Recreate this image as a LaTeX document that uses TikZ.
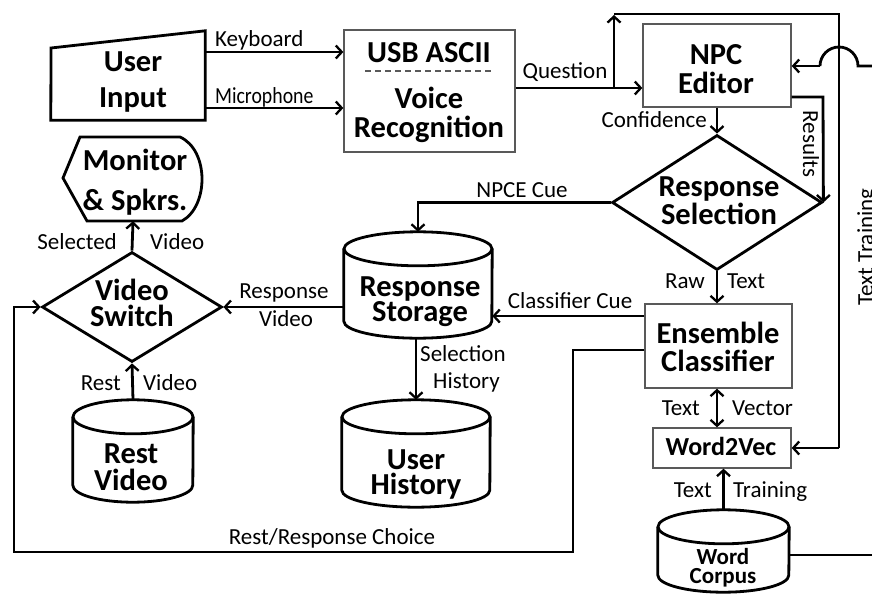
\documentclass[tikz,border=0pt]{standalone}
\usepackage{fontspec}
\setmainfont{Carlito}
\usetikzlibrary{arrows.meta,shapes.geometric}
\tikzset{
 lbl/.style={font=\fontsize{23}{24}\selectfont, inner sep=0, anchor=base},
 big/.style={font=\bfseries\fontsize{30.5}{28}\selectfont, inner sep=0, anchor=base, align=center},
 thk/.style={line width=2.8pt, line join=miter},
 thn/.style={draw=black!65, line width=1.3pt},
 ghost/.style={inner sep=0, draw=none},
 arr/.style={thk, -{Straight Barb[length=6pt,width=13pt,line width=2.3pt]}},
 darr/.style={thk, {Straight Barb[length=6pt,width=13pt,line width=2.3pt]}-{Straight Barb[length=6pt,width=13pt,line width=2.3pt]}},
}
\newcommand\drawcyl[3]{%
 \draw[thk] ([yshift=-#3]#1.north west) -- ([yshift=#3]#1.south west)
   arc[start angle=180,end angle=360,x radius=#2,y radius=#3] -- ([yshift=-#3]#1.north east);
 \draw[thk] ([yshift=-#3]#1.north) ellipse[x radius=#2, y radius=#3];}
\begin{document}
\begin{tikzpicture}[x=1pt,y=-1pt]
\useasboundingbox (0,0) rectangle (872,594);
% ---------- nodes ----------
\node[ghost, minimum width=154pt, minimum height=89pt] (ui) at (128,75.5) {};
\draw[thk] (ui.south west) -- (ui.south east) -- (ui.north east) -- (51,48) -- cycle;
\node[big, font=\bfseries\fontsize{30.5}{36}\selectfont] at (133,107) {User\\Input};

\node[thn, minimum width=171pt, minimum height=122pt] (usb) at (429.5,91) {};
\node[big] at (429,63) {USB ASCII};
\draw[thn, dashed, dash pattern=on 6pt off 4pt] (365,71) -- (492,71);
\node[big, font=\bfseries\fontsize{30.5}{29}\selectfont] at (429,137) {Voice\\Recognition};

\node[thn, minimum width=148pt, minimum height=83pt] (npc) at (717,65.5) {};
\node[big, font=\bfseries\fontsize{30.5}{29}\selectfont] at (716,93) {NPC\\Editor};

\node[thk, draw, diamond, inner sep=0, minimum width=210pt, minimum height=135pt] (rsel) at (717,202.5) {};
\node[big, font=\bfseries\fontsize{30.5}{26}\selectfont] at (719,224) {Response\\Selection};

\node[thn, minimum width=147pt, minimum height=84pt] (ens) at (718.5,346) {};
\node[big] at (718,371) {Ensemble\\Classifier};

\node[thn, minimum width=138pt, minimum height=40pt] (w2v) at (722,448) {};
\node[big, font=\bfseries\fontsize{26}{28}\selectfont] at (721,455) {Word2Vec};

\node[ghost, minimum width=148pt, minimum height=106pt] (rs) at (418,285) {};
\drawcyl{rs}{74pt}{17pt}
\node[big, font=\bfseries\fontsize{30.5}{25}\selectfont] at (420,321) {Response\\Storage};

\node[ghost, minimum width=148pt, minimum height=107pt] (uh) at (416,453.5) {};
\drawcyl{uh}{74pt}{17pt}
\node[big, font=\bfseries\fontsize{30.5}{25}\selectfont] at (416,494) {User\\History};

\node[ghost, minimum width=120pt, minimum height=102pt] (rv) at (133,451) {};
\drawcyl{rv}{60pt}{17pt}
\node[big, font=\bfseries\fontsize{30.5}{27}\selectfont] at (131,490) {Rest\\Video};

\node[ghost, minimum width=131pt, minimum height=82pt] (wc) at (723.5,551) {};
\drawcyl{wc}{65.5pt}{17pt}
\node[big, font=\bfseries\fontsize{23}{19}\selectfont] at (723,583) {Word\\Corpus};

\node[thk, draw, diamond, inner sep=0, minimum width=180pt, minimum height=110pt] (vs) at (132,307) {};
\node[big, font=\bfseries\fontsize{30.5}{26}\selectfont] at (132,326) {Video\\Switch};

\node[ghost, minimum width=140pt, minimum height=84pt] (mon) at (133,179) {};
\draw[thk] (80,137) -- (180,137) .. controls (209,150) and (209,206) .. (182,221) -- (87,221) -- (63,178) -- cycle;
\node[big, font=\bfseries\fontsize{30.5}{40}\selectfont] at (135,210) {Monitor\\\& Spkrs.};

% ---------- connectors ----------
\draw[arr] (ui.east |- 0,52) -- (usb.west |- 0,52);
\node[lbl, anchor=base west] at (215,47) {Keyboard};
\draw[arr] (ui.east |- 0,108) -- (usb.west |- 0,108);
\node[lbl, anchor=base west, xscale=0.86] at (215,103) {Microphone};

\draw[arr] (usb.east |- 0,88) -- (npc.west |- 0,88);
\node[lbl] at (565,78) {Question};
\coordinate (br) at (614,88);
\draw[arr] (br) -- (614,15);
\draw[thk] (614,14) -- (839,14) -- (839,448);
\draw[arr] (839,448) -- (w2v.east |- 0,448);

\draw[thk] (872,66) -- (858,66) arc[start angle=0,end angle=180,radius=19pt];
\draw[arr] (820,66) -- (npc.east |- 0,66);

\draw[arr] (npc.east |- 0,97) -- (823,97) -- (rsel.east);
\node[lbl, rotate=-90] at (803,144) {Results};

\draw[arr] (npc.south) -- (rsel.north);
\node[lbl, anchor=base east] at (707,127) {Confidence};

\draw[arr] (rsel.west) -- (418,202.5) -- (rs.north);
\node[lbl] at (522,197) {NPCE Cue};

\draw[arr] (rsel.south) -- (ens.north -| rsel.south);
\node[lbl, anchor=base east] at (705,288) {Raw};
\node[lbl, anchor=base west] at (727,288) {Text};

\draw[arr] (ens.west |- 0,316) -- (rs.east |- 0,316);
\node[lbl] at (570,308) {Classifier Cue};

\draw[arr] (rs.west |- vs.east) -- (vs.east);
\node[lbl] at (284,298) {Response};
\node[lbl] at (286,326) {Video};

\draw[arr] (vs.north) -- (mon.south);
\node[lbl, anchor=base east] at (117,249) {Selected};
\node[lbl, anchor=base west] at (150,249) {Video};

\draw[arr] (rv.north) -- (vs.south);
\node[lbl, anchor=base east] at (121,390) {Rest};
\node[lbl, anchor=base west] at (143,390) {Video};

\draw[arr] (ens.west |- 0,350) -- (573,350) -- (573,552) -- (14,552) -- (14,307) -- (vs.west);
\node[lbl] at (332,544) {Rest/Response Choice};

\draw[arr] (416,338) -- (uh.north);
\node[lbl, anchor=base west] at (420,361) {Selection};
\node[lbl, anchor=base west] at (433,388) {History};

\draw[darr] (ens.south -| 717,0) -- (w2v.north -| 717,0);
\node[lbl, anchor=base east] at (700,415) {Text};
\node[lbl, anchor=base west] at (732,415) {Vector};

\draw[arr] (wc.north) -- (w2v.south -| wc.north);
\node[lbl, anchor=base east] at (712,497) {Text};
\node[lbl, anchor=base west] at (733,497) {Training};

\draw[thk] (wc.east |- 0,555) -- (872,555);
\node[lbl, rotate=90] at (873,247) {Text Training};
\end{tikzpicture}
\end{document}
